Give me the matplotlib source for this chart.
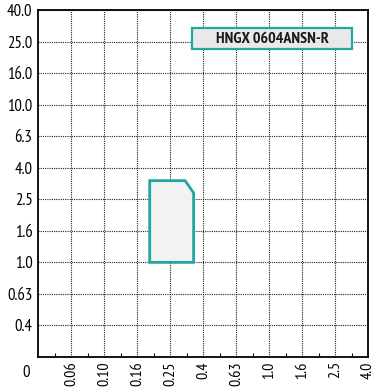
import numpy as np
import matplotlib
matplotlib.use("Agg")
import matplotlib.pyplot as plt
from matplotlib import font_manager
from matplotlib.patches import Rectangle

names = {f.name for f in font_manager.fontManager.ttflist}
cond = "DejaVu Sans"
for cand in ["PT Sans Narrow", "Open Sans Condensed", "Roboto Condensed", "Barlow Semi Condensed",
             "Archivo Narrow", "Liberation Sans Narrow", "Barlow Condensed"]:
    if cand in names:
        cond = cand
        break

x_labels = ["0.06", "0.10", "0.16", "0.25", "0.4", "0.63", "1.0", "1.6", "2.5", "4.0"]
y_labels = ["0.4", "0.63", "1.0", "1.6", "2.5", "4.0", "6.3", "10.0", "16.0", "25.0", "40.0"]
x_vals = [0.06, 0.10, 0.16, 0.25, 0.4, 0.63, 1.0, 1.6, 2.5, 4.0]
y_vals = [0.4, 0.63, 1.0, 1.6, 2.5, 4.0, 6.3, 10.0, 16.0, 25.0, 40.0]

# chipbreaker application area (feed f, depth ap)
area_f = [0.19, 0.19, 0.31, 0.35, 0.35]
area_ap = [1.0, 3.3, 3.3, 2.75, 1.0]
insert_name = "HNGX 0604ANSN-R"

def pos(v, vals):
    return np.interp(np.log(v), np.log(vals), np.arange(1, len(vals) + 1))

fig = plt.figure(figsize=(3.77, 3.87), dpi=100)
ax = fig.add_axes([38/377, 30/387, 330/377, 347/387])
ax.set_xlim(0, 10)
ax.set_ylim(0, 11)

ax.set_xticks(np.arange(1, 11))
ax.set_xticklabels(x_labels, rotation=90, fontfamily=cond, fontsize=11.5)
ax.set_yticks(np.arange(1, 12))
ax.set_yticklabels(y_labels, fontfamily=cond, fontsize=12)
ax.set_xticks(np.arange(0.5, 10, 1), minor=True)
ax.tick_params(axis="y", which="major", length=0, pad=4)
ax.tick_params(axis="x", which="major", length=0, pad=3)
ax.tick_params(axis="x", which="minor", direction="in", length=3, width=0.8)
ax.grid(True, which="major", linestyle=(0, (1, 1)), color="#222222", linewidth=0.8)
for s in ax.spines.values():
    s.set_linewidth(1.3)
    s.set_color("black")

ax.text(-0.026, -0.022, "0", transform=ax.transAxes, ha="right", va="top",
        fontfamily=cond, fontsize=12)

px = pos(np.array(area_f), x_vals)
py = pos(np.array(area_ap), y_vals)
ax.fill(px, py, facecolor="#f2f2f2", edgecolor="#21a6a0", linewidth=2, zorder=3)

ax.add_patch(Rectangle((0.467, 0.888), 0.485, 0.060, transform=ax.transAxes,
                       facecolor="#e9e9e9", edgecolor="#21a6a0", linewidth=1.6, zorder=4))
ax.text(0.709, 0.917, insert_name, transform=ax.transAxes, ha="center", va="center",
        fontfamily=cond, fontweight="bold", fontsize=11.5, color="#1a1a1a", zorder=5)

fig.savefig("out.png", dpi=100)
